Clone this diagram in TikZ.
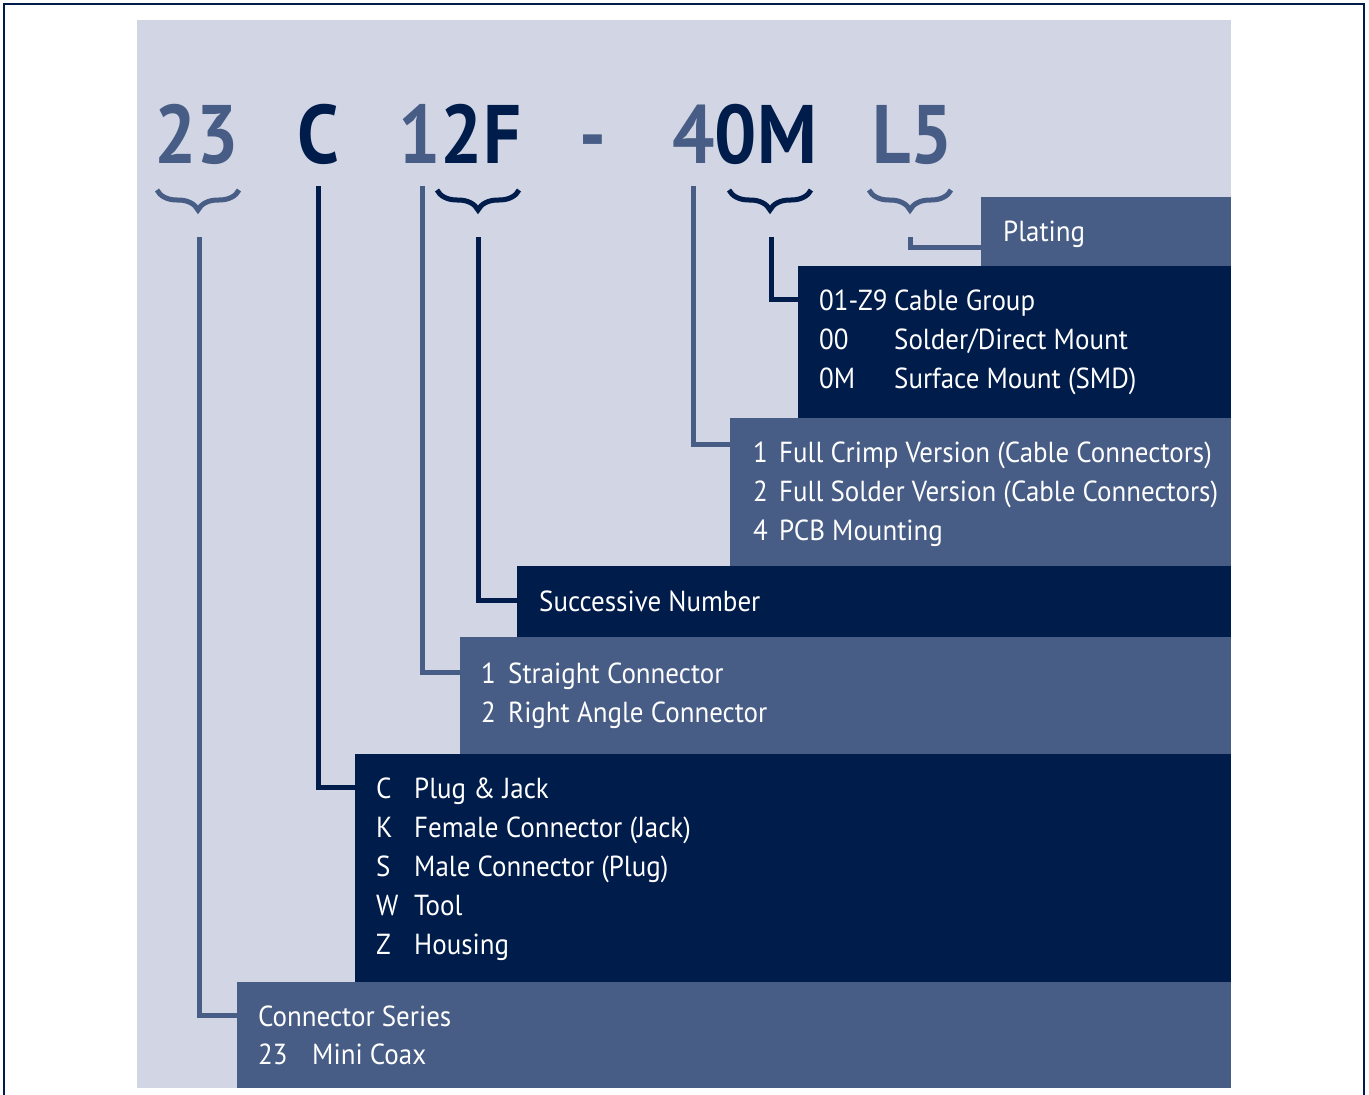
\documentclass[tikz,border=0pt]{standalone}
\usepackage{fontspec}
\setmainfont[FakeStretch=0.93]{PT Sans}
\newfontfamily\bigfont[FakeStretch=0.9]{PT Sans}
\usepackage{tikz}
\usetikzlibrary{positioning}
\usetikzlibrary{decorations.pathreplacing}
\definecolor{codelight}{HTML}{D2D6E4}
\definecolor{codemid}{HTML}{475D86}
\definecolor{codedark}{HTML}{001C4B}
\tikzset{
  box_mid/.style={rectangle, fill=codemid, anchor=north west, inner sep=0},
  box_dark/.style={rectangle, fill=codedark, anchor=north west, inner sep=0},
  big_mid/.style={anchor=base west, inner sep=0, text=codemid, font=\bigfont\bfseries\fontsize{83}{83}\selectfont},
  big_dark/.style={anchor=base west, inner sep=0, text=codedark, font=\bigfont\bfseries\fontsize{83}{83}\selectfont},
  row_text/.style={anchor=base west, inner sep=0, text=white, font=\fontsize{29}{39}\selectfont},
  conn_mid/.style={-, line width=5, color=codemid},
  conn_dark/.style={-, line width=5, color=codedark},
  brace_mid/.style={decorate, decoration={brace, mirror, amplitude=20}, line width=5, color=codemid},
  brace_dark/.style={decorate, decoration={brace, mirror, amplitude=20}, line width=5, color=codedark}}
\begin{document}
\begin{tikzpicture}[x=1pt, y=-1pt]
\useasboundingbox (0,0) rectangle (1369,1095);
\draw[codedark, line width=2.5] (4,1095) -- (4,4) -- (1364,4) -- (1364,1095);
\fill[codelight] (137,20) rectangle (1231,1088);

%% Code
\node[big_mid]  at (154,163) (code_23) {23};
\node[big_dark] at (297,163) (code_c)  {C};
\node[big_mid]  at (398,163) (code_1)  {1};
\node[big_dark] at (code_1.base east) (code_2f) {2F};
\node[big_mid]  at (579,163) (code_dash) {-};
\node[big_mid]  at (672,163) (code_4)  {4};
\node[big_dark] at (code_4.base east) (code_0m) {0M};
\node[big_mid]  at (872,163) (code_l5) {L5};

%% Braces
\draw[brace_mid]  (157,190) -- (239,190);
\draw[brace_dark] (437,190) -- (519,190);
\draw[brace_dark] (729,190) -- (811,190);
\draw[brace_mid]  (869,190) -- (951,190);

%% Boxes
\node[box_mid,  minimum width=250, minimum height=69]  at (981,197) (plating_box) {};
\node[box_dark, minimum width=433, minimum height=152] at (798,266) (cable_box) {};
\node[box_mid,  minimum width=501, minimum height=148] at (730,418) (crimp_box) {};
\node[box_dark, minimum width=714, minimum height=71]  at (517,566) (succ_box) {};
\node[box_mid,  minimum width=771, minimum height=117] at (460,637) (straight_box) {};
\node[box_dark, minimum width=876, minimum height=228] at (355,754) (plug_box) {};
\node[box_mid,  minimum width=994, minimum height=106] at (237,982) (series_box) {};

%% Plating
\node[row_text] at (1003,241) (plating_a) {Plating};

%% Cable group
\node[row_text] at (819,310) (cable_k1) {01-Z9};
\node[row_text] at (894,310) (cable_d1) {Cable Group};
\node[row_text] at (819,349) (cable_k2) {00};
\node[row_text] at (894,349) (cable_d2) {Solder/Direct Mount};
\node[row_text] at (819,388) (cable_k3) {0M};
\node[row_text] at (894,388) (cable_d3) {Surface Mount (SMD)};

%% Version
\node[row_text] at (753,462) (crimp_k1) {1};
\node[row_text] at (779,462) (crimp_d1) {Full Crimp Version (Cable Connectors)};
\node[row_text] at (753,501) (crimp_k2) {2};
\node[row_text] at (779,501) (crimp_d2) {Full Solder Version (Cable Connectors)};
\node[row_text] at (753,540) (crimp_k3) {4};
\node[row_text] at (779,540) (crimp_d3) {PCB Mounting};

%% Successive number
\node[row_text] at (539,611) (succ_a) {Successive Number};

%% Shape
\node[row_text] at (481,683) (straight_k1) {1};
\node[row_text] at (508,683) (straight_d1) {Straight Connector};
\node[row_text] at (481,722) (straight_k2) {2};
\node[row_text] at (508,722) (straight_d2) {Right Angle Connector};

%% Type
\node[row_text] at (376,798) (plug_k1) {C};
\node[row_text] at (414,798) (plug_d1) {Plug \& Jack};
\node[row_text] at (376,837) (plug_k2) {K};
\node[row_text] at (414,837) (plug_d2) {Female Connector (Jack)};
\node[row_text] at (376,876) (plug_k3) {S};
\node[row_text] at (414,876) (plug_d3) {Male Connector (Plug)};
\node[row_text] at (376,915) (plug_k4) {W};
\node[row_text] at (414,915) (plug_d4) {Tool};
\node[row_text] at (376,954) (plug_k5) {Z};
\node[row_text] at (414,954) (plug_d5) {Housing};

%% Series
\node[row_text] at (258,1026) (series_a)  {Connector Series};
\node[row_text] at (258,1064) (series_k1) {23};
\node[row_text] at (312,1064) (series_d1) {Mini Coax};

%% Connectors
\coordinate (tip_23) at (199,237);
\coordinate (tip_c)  at (318,186);
\coordinate (tip_1)  at (422,186);
\coordinate (tip_2f) at (478,237);
\coordinate (tip_4)  at (693,186);
\coordinate (tip_0m) at (771,237);
\coordinate (tip_l5) at (910,237);

\draw[conn_mid]  (tip_23) |- (series_box.west |- series_a);
\draw[conn_dark] (tip_c)  |- (plug_box.west |- plug_k1);
\draw[conn_mid]  (tip_1)  |- (straight_box.west |- straight_k1);
\draw[conn_dark] (tip_2f) |- (succ_box.west |- succ_a);
\draw[conn_mid]  (tip_4)  |- ([yshift=7]crimp_box.west |- crimp_k1);
\draw[conn_dark] (tip_0m) |- (cable_box.west |- cable_k1);
\draw[conn_mid]  (tip_l5) |- ([yshift=19]plating_box.south west);

\end{tikzpicture}
\end{document}
